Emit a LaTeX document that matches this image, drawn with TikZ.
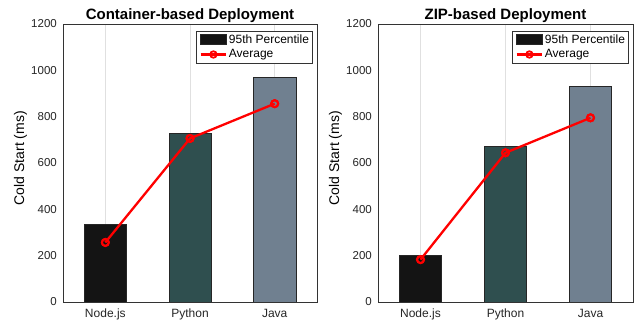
\documentclass[tikz,border=0pt]{standalone}
\usepackage{fontspec}
\setmainfont{Liberation Sans}
\definecolor{barA}{HTML}{141414}
\definecolor{barB}{HTML}{2F4F4F}
\definecolor{barC}{HTML}{708090}
\definecolor{frameC}{HTML}{333333}
\definecolor{gridC}{HTML}{E0E0E0}
\definecolor{avgC}{HTML}{FF0000}
\begin{document}
\begin{tikzpicture}[x=1pt,y=1pt,
  gridline/.style={draw=gridC, line width=0.6pt},
  bar/.style={draw=black!85, line width=0.6pt},
  axisframe/.style={draw=frameC, line width=0.8pt},
  ytick/.style={anchor=east, inner sep=0pt, font=\fontsize{11.5}{13}\selectfont, text=black!85},
  xtick/.style={anchor=base, inner sep=0pt, font=\fontsize{12}{14}\selectfont, text=black!85},
  ylab/.style={inner sep=0pt, rotate=90, font=\fontsize{14}{16}\selectfont},
  ttl/.style={anchor=base, inner sep=0pt, font=\fontsize{15}{18}\selectfont\bfseries},
  avgline/.style={draw=avgC, line width=2.3pt, line join=round},
  marker/.style={circle, draw=avgC, line width=2pt, minimum size=7pt, inner sep=0pt},
  legbox/.style={draw=frameC, fill=white, line width=0.8pt, inner sep=0pt,
    minimum width=116.3pt, minimum height=31.5pt, anchor=north east},
  legtext/.style={anchor=west, inner sep=0pt, font=\fontsize{12}{14}\selectfont}
]
\useasboundingbox (0,0) rectangle (637,326);
\fill[white] (0,0) rectangle (637,326);

% one panel per deployment type: bars = 95th percentile, line = average
\foreach \p/\xo/\xu/\ttltext/\bA/\bB/\bC/\aA/\aB/\aC in {
  L/63/84.67/Container-based Deployment/335/728/970/257/706/856,
  R/378/85/ZIP-based Deployment/200/673/932/183/644/795}{
  \begin{scope}[shift={(\xo pt,24pt)}, x=\xu pt, y=0.231667pt]
    % vertical grid at each category
    \foreach \c in {0.5,1.5,2.5}
      \draw[gridline] (\c,0) -- (\c,1200);
    % bars
    \draw[bar, fill=barA] (0.25,0) rectangle (0.75,\bA);
    \draw[bar, fill=barB] (1.25,0) rectangle (1.75,\bB);
    \draw[bar, fill=barC] (2.25,0) rectangle (2.75,\bC);
    % axes box
    \draw[axisframe] (0,0) rectangle (3,1200);
    % tick labels
    \foreach \v in {0,200,...,1200}
      \node[ytick] (\p-y\v) at ([xshift=-6pt]0,\v) {\v};
    \node[xtick] (\p-x1) at ([yshift=-15.5pt]0.5,0) {Node.js};
    \node[xtick] (\p-x2) at ([yshift=-15.5pt]1.5,0) {Python};
    \node[xtick] (\p-x3) at ([yshift=-15.5pt]2.5,0) {Java};
    % axis label and title
    \node[ylab] (\p-yl) at ([xshift=-42.5pt]0,621) {Cold Start (ms)};
    \node[ttl] (\p-t) at ([yshift=4pt]1.5,1200) {\ttltext};
    % average line with open circle markers
    \node[marker] (\p-a1) at (0.5,\aA) {};
    \node[marker] (\p-a2) at (1.5,\aB) {};
    \node[marker] (\p-a3) at (2.5,\aC) {};
    \draw[avgline] (\p-a1.center) -- (\p-a2.center) -- (\p-a3.center);
    \node[marker] at (\p-a1.center) {};
    \node[marker] at (\p-a2.center) {};
    \node[marker] at (\p-a3.center) {};
  \end{scope}
  \pgfmathsetmacro\xe{\xo+3*\xu}
  % legend, placed from the top right corner of the axes (y grows downward)
  \begin{scope}[shift={(\xe pt,302pt)}, x=1pt, y=-1pt]
    \node[legbox] (\p-leg) at (-4,7.5) {};
    \draw[bar, fill=barA] (-116.3,10) rectangle (-91,20);
    \coordinate (\p-ls) at (-116.3,30.5);
    \coordinate (\p-le) at (-91,30.5);
    \draw[avgline, line width=2.1pt] (\p-ls) -- (\p-le);
    \node[marker, line width=1.8pt, minimum size=6.5pt] (\p-lm) at (-103.6,30.5) {};
    \node[legtext] (\p-l1) at (-88.3,15) {95th Percentile};
    \node[legtext] (\p-l2) at (-88.3,30.5) {Average};
  \end{scope}
}
\end{tikzpicture}
\end{document}
